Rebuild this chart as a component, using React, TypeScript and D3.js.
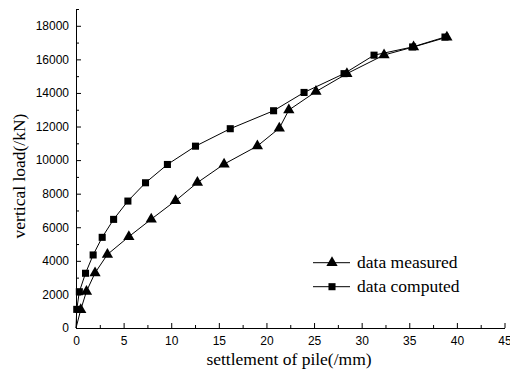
import { useEffect, useRef } from "react";
import * as d3 from "d3";

// settlement (mm) / vertical load (kN)
const settlementMeasured = [0, 0.5, 1.1, 2.0, 3.3, 5.55, 7.9, 10.45, 12.75, 15.55, 19.05, 21.35, 22.35, 25.2, 28.45, 32.35, 35.45, 38.95];
const loadMeasured = [0, 1090, 2180, 3280, 4380, 5440, 6480, 7580, 8660, 9760, 10840, 11900, 12980, 14080, 15150, 16260, 16740, 17320];

const settlementComputed = [0, 0.08, 0.35, 1.0, 1.8, 2.75, 3.95, 5.45, 7.3, 9.6, 12.55, 16.2, 20.75, 23.95, 28.15, 31.3, 35.35, 38.75];
const loadComputed = [0, 1110, 2160, 3260, 4350, 5400, 6470, 7560, 8650, 9740, 10830, 11870, 12940, 14030, 15150, 16250, 16740, 17330];

const xTicks = [0, 5, 10, 15, 20, 25, 30, 35, 40, 45];
const yTicks = [0, 2000, 4000, 6000, 8000, 10000, 12000, 14000, 16000, 18000];

const legendLabels = ["data measured", "data computed"];

export default function App() {
  const svgRef = useRef<SVGSVGElement>(null);

  useEffect(() => {
    const svg = d3.select(svgRef.current);
    svg.selectAll("*").remove();

    const x = d3.scaleLinear().domain([0, 45]).range([76, 504.5]);
    const y = d3.scaleLinear().domain([0, 19000]).range([328, 9]);

    const tickFont = "'Liberation Sans', Arial, sans-serif";
    const serif = "'Liberation Serif', 'Times New Roman', serif";

    // minor ticks
    svg.append("g").attr("transform", "translate(0,328)")
      .call(d3.axisBottom(x).tickValues(d3.range(2.5, 45, 5)).tickSize(-3).tickFormat(() => ""))
      .call((ax) => ax.select(".domain").remove())
      .call((ax) => ax.selectAll(".tick line").attr("stroke", "#000"));
    svg.append("g").attr("transform", "translate(76,0)")
      .call(d3.axisLeft(y).tickValues(d3.range(1000, 19001, 2000)).tickSize(-3).tickFormat(() => ""))
      .call((ax) => ax.select(".domain").remove())
      .call((ax) => ax.selectAll(".tick line").attr("stroke", "#000"));

    // major axes
    svg.append("g").attr("transform", "translate(0,328)")
      .call(d3.axisBottom(x).tickValues(xTicks).tickSize(-5).tickSizeOuter(0).tickPadding(8))
      .call((ax) => ax.select(".domain").attr("stroke", "#000"))
      .call((ax) => ax.selectAll(".tick line").attr("stroke", "#000"))
      .call((ax) => ax.selectAll(".tick text").attr("fill", "#000").attr("font-size", 12).attr("font-family", tickFont));
    svg.append("g").attr("transform", "translate(76,0)")
      .call(d3.axisLeft(y).tickValues(yTicks).tickSize(-5).tickSizeOuter(0).tickPadding(7).tickFormat(d3.format("d")))
      .call((ax) => ax.select(".domain").attr("stroke", "#000"))
      .call((ax) => ax.selectAll(".tick line").attr("stroke", "#000"))
      .call((ax) => ax.selectAll(".tick text").attr("fill", "#000").attr("font-size", 12).attr("font-family", tickFont));

    // axis titles
    svg.append("text")
      .attr("x", 289).attr("y", 365)
      .attr("text-anchor", "middle")
      .attr("font-family", serif).attr("font-size", 17.5)
      .text("settlement of pile(/mm)");
    svg.append("text")
      .attr("transform", "translate(25,176) rotate(-90)")
      .attr("text-anchor", "middle")
      .attr("font-family", serif).attr("font-size", 17.5)
      .text("vertical load(/kN)");

    const series = [
      { xs: settlementMeasured, ys: loadMeasured, shape: d3.symbolTriangle, size: 55 },
      { xs: settlementComputed, ys: loadComputed, shape: d3.symbolSquare, size: 50 },
    ];

    series.forEach((s) => {
      const pts = s.xs.map((v, i) => [x(v), y(s.ys[i])] as [number, number]);
      svg.append("path")
        .attr("d", d3.line()(pts))
        .attr("fill", "none")
        .attr("stroke", "#000")
        .attr("stroke-width", 1);
      // no marker drawn at the origin
      svg.append("g").selectAll("path")
        .data(pts.slice(1))
        .join("path")
        .attr("transform", (p) => `translate(${p[0]},${p[1]})`)
        .attr("d", d3.symbol(s.shape, s.size)())
        .attr("fill", "#000");
    });

    // legend
    const lg = svg.append("g");
    series.forEach((s, i) => {
      const cy = 262.7 + i * 24;
      lg.append("line")
        .attr("x1", 313).attr("x2", 350).attr("y1", cy).attr("y2", cy)
        .attr("stroke", "#000");
      lg.append("path")
        .attr("transform", `translate(332,${cy})`)
        .attr("d", d3.symbol(s.shape, s.size)())
        .attr("fill", "#000");
      lg.append("text")
        .attr("x", 357).attr("y", cy + 5.5)
        .attr("font-family", serif).attr("font-size", 17.5)
        .text(legendLabels[i]);
    });
  }, []);

  return (
    <svg
      ref={svgRef}
      width={510}
      height={376}
      style={{ position: "absolute", left: 0, top: 0, background: "#fff" }}
    />
  );
}
